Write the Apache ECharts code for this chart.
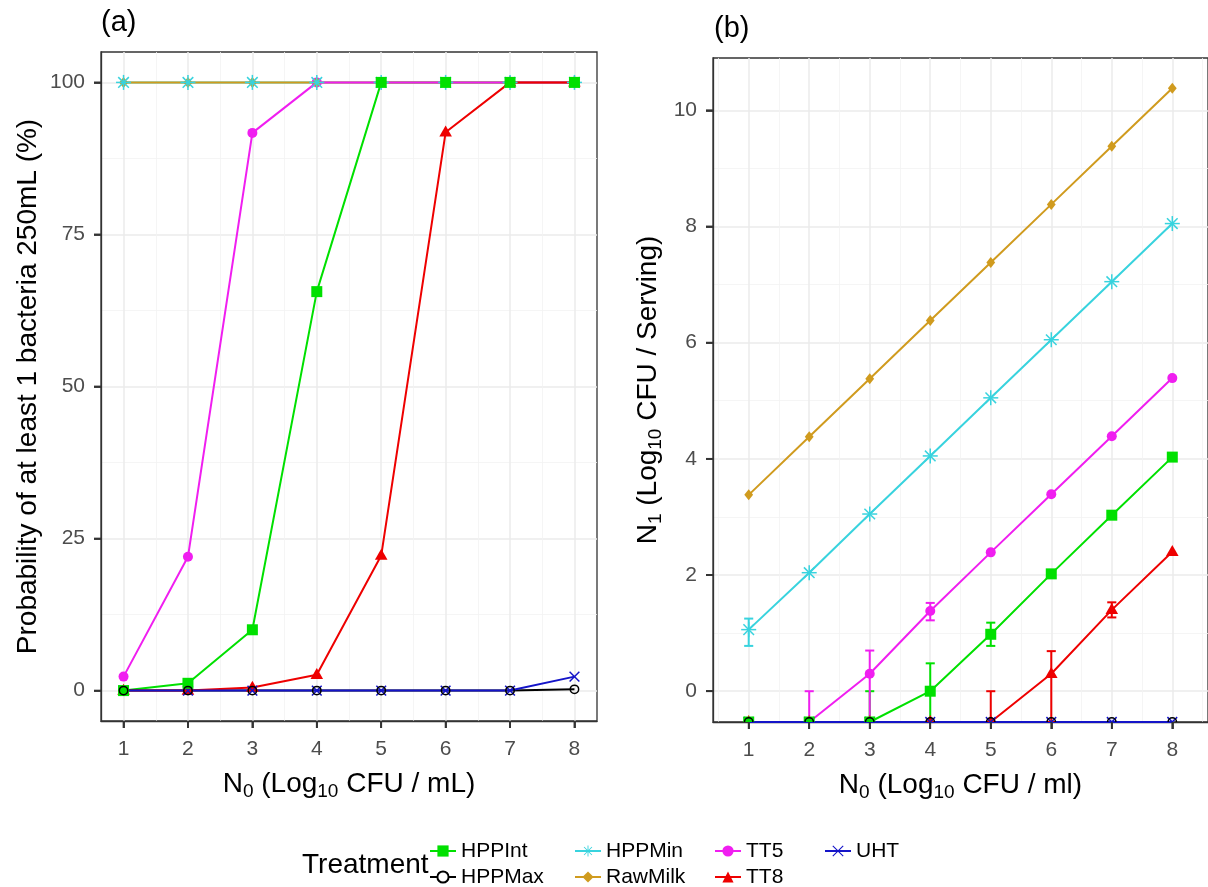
<!DOCTYPE html>
<html><head><meta charset="utf-8">
<script src="https://cdn.jsdelivr.net/npm/echarts@6/dist/echarts.min.js"></script>
<style>html,body{margin:0;padding:0;background:#fff}#c{width:1208px;height:887px}</style>
</head><body><div id="c"></div>
<script>
// ---------- data ----------
const treatments = ['HPPInt', 'HPPMax', 'HPPMin', 'RawMilk', 'TT5', 'TT8', 'UHT'];
const n0 = [1, 2, 3, 4, 5, 6, 7, 8];

// Panel (a): probability of at least 1 bacteria per 250 mL (%)
const probHPPInt  = [0, 1.2, 10, 65.6, 100, 100, 100, 100];
const probHPPMax  = [0, 0, 0, 0, 0, 0, 0, 0.2];
const probHPPMin  = [100, 100, 100, 100, 100, 100, 100, 100];
const probRawMilk = [100, 100, 100, 100, 100, 100, 100, 100];
const probTT5     = [2.3, 22, 91.7, 100, 100, 100, 100, 100];
const probTT8     = [0, 0, 0.5, 2.6, 22.2, 91.8, 100, 100];
const probUHT     = [0, 0, 0, 0, 0, 0, 0, 2.3];

// Panel (b): N1 (log10 CFU / serving); -Infinity = log10(0), drawn at the panel edge
const logHPPInt  = [-Infinity, -Infinity, -Infinity, 0, 0.98, 2.02, 3.03, 4.03];
const logHPPMax  = [-Infinity, -Infinity, -Infinity, -Infinity, -Infinity, -Infinity, -Infinity, -Infinity];
const logHPPMin  = [1.06, 2.04, 3.05, 4.05, 5.05, 6.05, 7.05, 8.05];
const logRawMilk = [3.38, 4.38, 5.38, 6.38, 7.38, 8.38, 9.38, 10.38];
const logTT5     = [-Infinity, -Infinity, 0.3, 1.38, 2.39, 3.39, 4.39, 5.39];
const logTT8     = [-Infinity, -Infinity, -Infinity, -Infinity, -Infinity, 0.3, 1.4, 2.4];
const logUHT     = [-Infinity, -Infinity, -Infinity, -Infinity, -Infinity, -Infinity, -Infinity, -Infinity];

// Panel (b) error bars: [N0, low, high]
const errHPPInt  = [[3, -Infinity, 0], [4, -Infinity, 0.48], [5, 0.78, 1.18]];
const errHPPMin  = [[1, 0.78, 1.25]];
const errTT5     = [[2, -Infinity, 0], [3, -Infinity, 0.7], [4, 1.22, 1.52]];
const errTT8     = [[5, -Infinity, 0], [6, -Infinity, 0.69], [7, 1.27, 1.53]];

// tick labels
const ticksX  = [1, 2, 3, 4, 5, 6, 7, 8];
const ticksAY = [0, 25, 50, 75, 100];
const ticksBY = [0, 2, 4, 6, 8, 10];

// ---------- styling ----------
const FONT = '"Liberation Sans", Arial, sans-serif';
const X_PATH = 'path://M1.4,0L20,18.6L18.6,20L0,1.4ZM18.6,0L20,1.4L1.4,20L0,18.6Z';
const STAR_PATH = 'path://M9.2,0L10.8,0L10.8,20L9.2,20ZM0,9.2L20,9.2L20,10.8L0,10.8ZM3.5,2.36L17.64,16.5L16.5,17.64L2.36,3.5ZM16.5,2.36L17.64,3.5L3.5,17.64L2.36,16.5Z';
const sty = {
  HPPInt:  {color: '#00E000', shape: 'square',   size: 11, legend: 'rect'},
  HPPMax:  {color: '#000000', shape: 'open',     size: 10, legend: 'emptyCircle'},
  HPPMin:  {color: '#38D3DE', shape: 'star',     size: 15, legend: STAR_PATH},
  RawMilk: {color: '#D09B1E', shape: 'diamond',  size: 11, legend: 'diamond'},
  TT5:     {color: '#F01EF0', shape: 'circle',   size: 10, legend: 'circle'},
  TT8:     {color: '#EE0000', shape: 'triangle', size: 12, legend: 'triangle'},
  UHT:     {color: '#1414C8', shape: 'x',        size: 13, legend: X_PATH}
};
const dataA = {HPPInt: probHPPInt, HPPMax: probHPPMax, HPPMin: probHPPMin, RawMilk: probRawMilk, TT5: probTT5, TT8: probTT8, UHT: probUHT};
const dataB = {HPPInt: logHPPInt, HPPMax: logHPPMax, HPPMin: logHPPMin, RawMilk: logRawMilk, TT5: logTT5, TT8: logTT8, UHT: logUHT};
const errB = {HPPInt: errHPPInt, HPPMin: errHPPMin, TT5: errTT5, TT8: errTT8};
const pointOrder = ['TT5', 'TT8', 'RawMilk', 'HPPMin', 'UHT', 'HPPInt', 'HPPMax'];

const AX_A = [0.65, 8.35], AY_A = [-5, 105];
const AX_B = [0.41, 8.59], AY_B = [-0.53, 10.9];

function fin(v, lo) { return v === -Infinity ? lo : v; }

function marker(shape, cx, cy, s, color) {
  const h = s / 2;
  switch (shape) {
    case 'square': return {type: 'rect', shape: {x: cx - h, y: cy - h, width: s, height: s}, style: {fill: color}};
    case 'circle': return {type: 'circle', shape: {cx: cx, cy: cy, r: h}, style: {fill: color}};
    case 'open': return {type: 'circle', shape: {cx: cx, cy: cy, r: h - 0.8}, style: {fill: null, stroke: color, lineWidth: 1.5}};
    case 'triangle': return {type: 'polygon', shape: {points: [[cx, cy - h * 1.15], [cx + h * 1.05, cy + h * 0.7], [cx - h * 1.05, cy + h * 0.7]]}, style: {fill: color}};
    case 'diamond': return {type: 'polygon', shape: {points: [[cx, cy - h], [cx + h * 0.8, cy], [cx, cy + h], [cx - h * 0.8, cy]]}, style: {fill: color}};
    case 'x': return {type: 'group', children: [
      {type: 'line', shape: {x1: cx - h * 0.75, y1: cy - h * 0.75, x2: cx + h * 0.75, y2: cy + h * 0.75}, style: {stroke: color, lineWidth: 1.5}},
      {type: 'line', shape: {x1: cx - h * 0.75, y1: cy + h * 0.75, x2: cx + h * 0.75, y2: cy - h * 0.75}, style: {stroke: color, lineWidth: 1.5}}]};
    case 'star': {
      const d = h * 0.707;
      return {type: 'group', children: [
        {type: 'line', shape: {x1: cx - h, y1: cy, x2: cx + h, y2: cy}, style: {stroke: color, lineWidth: 1.5}},
        {type: 'line', shape: {x1: cx, y1: cy - h, x2: cx, y2: cy + h}, style: {stroke: color, lineWidth: 1.5}},
        {type: 'line', shape: {x1: cx - d, y1: cy - d, x2: cx + d, y2: cy + d}, style: {stroke: color, lineWidth: 1.5}},
        {type: 'line', shape: {x1: cx - d, y1: cy + d, x2: cx + d, y2: cy - d}, style: {stroke: color, lineWidth: 1.5}}]};
    }
  }
}

const series = [];
function addLines(panel, dmap, ylo) {
  treatments.forEach(t => {
    const s = sty[t];
    series.push({
      name: t, type: 'line', xAxisIndex: panel, yAxisIndex: panel,
      data: n0.map((x, i) => [x, fin(dmap[t][i], ylo)]),
      showSymbol: false, symbol: s.legend, symbolSize: 11, clip: true,
      lineStyle: {color: s.color, width: 2}, itemStyle: {color: s.color},
      z: 2, silent: true
    });
  });
}
function addPoints(panel, dmap, ylo) {
  pointOrder.forEach(t => {
    const s = sty[t];
    series.push({
      name: t, type: 'custom', xAxisIndex: panel, yAxisIndex: panel, clip: true, z: 4, silent: true,
      encode: {x: 0, y: 1},
      data: n0.map((x, i) => [x, fin(dmap[t][i], ylo)]),
      renderItem: function (params, api) {
        const p = api.coord([api.value(0), api.value(1)]);
        return marker(s.shape, p[0], p[1], s.size, s.color);
      }
    });
  });
}
function addErrors(panel, emap, ylo) {
  Object.keys(emap).forEach(t => {
    const s = sty[t];
    series.push({
      name: t, type: 'custom', xAxisIndex: panel, yAxisIndex: panel, clip: true, z: 3, silent: true,
      encode: {x: 0, y: [1, 2]},
      data: emap[t].map(r => [r[0], fin(r[1], ylo), fin(r[2], ylo)]),
      renderItem: function (params, api) {
        const x = api.value(0);
        const a = api.coord([x, api.value(1)]);
        const b = api.coord([x, api.value(2)]);
        const hw = api.size([0.075, 0])[0];
        const st = {stroke: s.color, lineWidth: 2};
        return {type: 'group', children: [
          {type: 'line', shape: {x1: a[0], y1: a[1], x2: b[0], y2: b[1]}, style: st},
          {type: 'line', shape: {x1: a[0] - hw, y1: a[1], x2: a[0] + hw, y2: a[1]}, style: st},
          {type: 'line', shape: {x1: b[0] - hw, y1: b[1], x2: b[0] + hw, y2: b[1]}, style: st}
        ]};
      }
    });
  });
}
// axis tick marks (outside the panel), placed through the axes' own scales
function addTicks(panel, tx, ty, xr, yr) {
  const tickStyle = {stroke: '#333333', lineWidth: 1.8};
  series.push({
    type: 'custom', xAxisIndex: panel, yAxisIndex: panel, clip: false, z: 6, silent: true,
    encode: {x: 0, y: 1},
    data: tx.map(v => [v, yr[0]]),
    renderItem: function (params, api) {
      const p = api.coord([api.value(0), api.value(1)]);
      return {type: 'line', shape: {x1: p[0], y1: p[1], x2: p[0], y2: p[1] + 7}, style: tickStyle};
    }
  });
  series.push({
    type: 'custom', xAxisIndex: panel, yAxisIndex: panel, clip: false, z: 6, silent: true,
    encode: {x: 0, y: 1},
    data: ty.map(v => [xr[0], v]),
    renderItem: function (params, api) {
      const p = api.coord([api.value(0), api.value(1)]);
      return {type: 'line', shape: {x1: p[0] - 7, y1: p[1], x2: p[0], y2: p[1]}, style: tickStyle};
    }
  });
}
addLines(0, dataA, AY_A[0]);
addLines(1, dataB, AY_B[0]);
addErrors(1, errB, AY_B[0]);
addPoints(0, dataA, AY_A[0]);
addPoints(1, dataB, AY_B[0]);
addTicks(0, ticksX, ticksAY, AX_A, AY_A);
addTicks(1, ticksX, ticksBY, AX_B, AY_B);

const nameRich = {
  t: {fontSize: 28, lineHeight: 34, color: '#000', fontFamily: FONT},
  s: {fontSize: 19, lineHeight: 17, verticalAlign: 'bottom', color: '#000', fontFamily: FONT}
};
function axisCommon(ticks, interval, margin) {
  return {
    type: 'value', minInterval: interval, maxInterval: interval,
    axisLine: {show: true, onZero: false, lineStyle: {color: '#333333', width: 1.3}},
    axisTick: {show: true, length: 7, customValues: ticks, lineStyle: {color: '#333333', width: 1.8}},
    axisLabel: {customValues: ticks, fontSize: 21, color: '#4D4D4D', fontFamily: FONT, margin: margin},
    splitLine: {show: true, lineStyle: {color: '#EBEBEB', width: 1.5}},
    minorTick: {show: false, splitNumber: 2},
    minorSplitLine: {show: true, lineStyle: {color: '#F3F3F3', width: 0.8}},
    nameLocation: 'middle',
    nameTextStyle: {rich: nameRich}
  };
}

const gridCommon = {show: true, borderColor: '#333333', borderWidth: 1.3};
const legendCommon = {
  orient: 'vertical', top: 840, height: 60, itemWidth: 26, itemHeight: 14, itemGap: 4, padding: 0, selectedMode: false,
  textStyle: {fontSize: 21, color: '#000', fontFamily: FONT, lineHeight: 22}
};

const option = {
  animation: false,
  backgroundColor: '#fff',
  title: [
    {text: '(a)', left: 96, top: 3, textStyle: {fontSize: 29, fontWeight: 'normal', color: '#000', fontFamily: FONT}},
    {text: '(b)', left: 709, top: 9, textStyle: {fontSize: 29, fontWeight: 'normal', color: '#000', fontFamily: FONT}},
    {text: 'Treatment', left: 297, top: 846, textStyle: {fontSize: 28, fontWeight: 'normal', color: '#000', fontFamily: FONT}}
  ],
  grid: [
    Object.assign({left: 101, top: 52, width: 496, height: 669}, gridCommon),
    Object.assign({left: 713, top: 58, width: 497, height: 664}, gridCommon)
  ],
  xAxis: [
    Object.assign(axisCommon(ticksX, 1, 18), {gridIndex: 0, min: AX_A[0], max: AX_A[1], nameGap: 46,
      name: '{t|N}{s|0}{t| (Log}{s|10}{t| CFU / mL)}'}),
    Object.assign(axisCommon(ticksX, 1, 18), {gridIndex: 1, min: AX_B[0], max: AX_B[1], nameGap: 46,
      name: '{t|N}{s|0}{t| (Log}{s|10}{t| CFU / ml)}'})
  ],
  yAxis: [
    Object.assign(axisCommon(ticksAY, 25, 16), {gridIndex: 0, min: AY_A[0], max: AY_A[1], nameGap: 56,
      name: '{t|Probability of at least 1 bacteria 250mL (%)}'}),
    Object.assign(axisCommon(ticksBY, 2, 16), {gridIndex: 1, min: AY_B[0], max: AY_B[1], nameGap: 48,
      name: '{t|N}{s|1}{t| (Log}{s|10}{t| CFU / Serving)}'})
  ],
  legend: [
    Object.assign({left: 429, data: ['HPPInt', 'HPPMax']}, legendCommon),
    Object.assign({left: 574, data: ['HPPMin', 'RawMilk']}, legendCommon),
    Object.assign({left: 714, data: ['TT5', 'TT8']}, legendCommon),
    Object.assign({left: 824, data: ['UHT']}, legendCommon)
  ],
  series: series
};

const chart = echarts.init(document.getElementById('c'), null, {renderer: 'canvas'});
chart.setOption(option);
</script>
</body></html>
